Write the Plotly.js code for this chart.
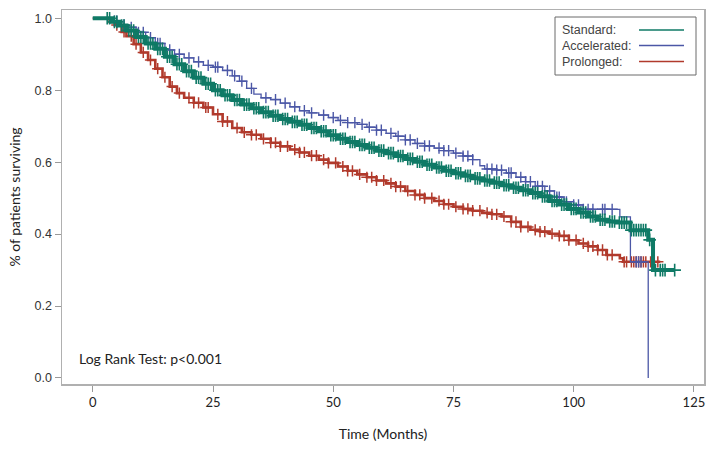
<!DOCTYPE html>
<html>
<head>
<meta charset="utf-8">
<script src="https://cdn.plot.ly/plotly-3.0.1.min.js"></script>
<style>html,body{margin:0;padding:0;background:#fff;}#chart{width:714px;height:452px;}</style>
</head>
<body>
<div id="chart"></div>
<script>
// ---- Data ----
const seriesNames = ["Standard:", "Accelerated:", "Prolonged:"];

const stdTime = [0,2.5,4,5.5,7,9,11,13,15,17,19,21,23,25,27,29,31,33,35,37,39,41,43,45,47,49,51,53,55,57,59,61,63,65,67,69,71,73,75,77,79,81,83,85,87,89,91,93,95,97,99,101,103,105,107,109,111.8,115.5,116.5,121];
const stdSurv = [1.0,1.0,0.99,0.98,0.966,0.948,0.93,0.915,0.893,0.872,0.853,0.835,0.818,0.80,0.786,0.773,0.76,0.75,0.739,0.729,0.72,0.712,0.704,0.695,0.686,0.675,0.665,0.656,0.648,0.64,0.632,0.625,0.617,0.609,0.601,0.593,0.585,0.576,0.569,0.562,0.555,0.549,0.543,0.536,0.529,0.522,0.514,0.505,0.492,0.482,0.470,0.46,0.449,0.44,0.435,0.432,0.411,0.384,0.30,0.30];

const accTime = [0,2.5,4,5.5,7,9,11,13,15,17,19,21,23,25,27,29,30.5,32,33.5,35,37,39,41,43,45,47,49,51,53,55,57,59,61,63,65,67,69,71,73,75,77,79,80.5,81.5,84,86,88,90,92,94,96,98,100,102,109.6,111.8,115.5];
const accSurv = [1.0,1.0,0.992,0.982,0.975,0.961,0.946,0.93,0.912,0.9,0.89,0.879,0.869,0.864,0.855,0.84,0.825,0.805,0.789,0.779,0.774,0.764,0.754,0.743,0.737,0.731,0.724,0.716,0.71,0.705,0.697,0.689,0.68,0.672,0.662,0.652,0.645,0.639,0.632,0.625,0.617,0.607,0.59,0.581,0.578,0.57,0.558,0.546,0.533,0.52,0.503,0.49,0.481,0.469,0.448,0.323,0.0];

const proTime = [0,2.5,3.5,4.6,6,7,8.5,10,11.5,13,14.5,16,17.5,19,21,23,25,27,29,31,33,35,37,39,41,43,45,47,49,51,53,55,57,59,61,63,65,67,69,71,73,75,77,79,81,83,85,87,89,91,93,95,97,99,101,103,105,106.8,109.6,110.3,118];
const proSurv = [1.0,1.0,0.99,0.981,0.962,0.95,0.928,0.905,0.884,0.86,0.836,0.81,0.792,0.779,0.765,0.752,0.733,0.713,0.695,0.683,0.676,0.665,0.654,0.644,0.635,0.627,0.618,0.607,0.598,0.588,0.576,0.566,0.558,0.549,0.541,0.532,0.52,0.509,0.5,0.492,0.483,0.476,0.47,0.465,0.459,0.455,0.449,0.434,0.42,0.412,0.407,0.401,0.395,0.383,0.374,0.366,0.356,0.342,0.333,0.323,0.323];

// censoring times (+ marks)
const stdCens = [3,3.5,4.5,5,6,6.5,7.5,8,8.5,9.5,10,10.5,11.5,12,12.5,13.5,14,14.5,15.5,16,16.5,17.5,18,18.5,19.5,20,20.5,21.5,22,22.5,23.5,24,24.5,25.5,26,26.5,27.5,28,28.5,29.5,30,30.5,31.5,32,32.5,33.5,34,34.5,35.5,36,36.5,37.5,38,38.5,39.5,40,40.5,41.5,42,42.5,43.5,44,44.5,45.5,46,46.5,47.5,48,48.5,49.5,50,50.5,51.5,52,52.5,53.5,54,54.5,55.5,56,56.5,57.5,58,58.5,59.5,60,60.5,61.5,62,62.5,63.5,64,64.5,65.5,66,66.5,67.5,68,68.5,69.5,70,70.5,71.5,72,72.5,73.5,74,74.5,75.5,76,76.5,77.5,78,78.5,79.5,80,80.5,81.5,82,82.5,83.5,84,84.5,85.5,86,86.5,87.5,88,88.5,89.5,90,90.5,91.5,92,92.5,93.5,94,94.5,95.5,96,96.5,97.5,98,98.5,99.5,100,100.5,101.5,102,102.5,103.5,104,104.5,105.5,106,106.5,107.5,108,108.5,109.5,110,110.5,111,112,112.5,113,113.5,114,114.5,115,115.8,117,118,118.5,119,121];
const accCens = [4.5,5,6.5,8,9.5,10.5,12,13.5,14,16,18,20,22,24,25.5,26,28,29.5,31,33,36,38,40,42,44,45.5,48,50,51.5,53,54.5,56,57.5,59,60,62,63.5,65,66,67.5,69,70,72,73,74,75.5,77,78,79,82,83,84,85,86.5,87,89,90,91,92.5,93.5,95,96.5,97,98.5,100,101,102,103,104,106,106.5,108,113,113.5,114];
const proCens = [5,6.5,8,9,10.5,12,13.5,15,16.5,18,20,21,22,23.5,24,26,27,28,30,31.5,33,34,35.5,37,38,39,40.5,42,43,44,45.5,46.5,48,49,50.5,52,53,54,55.5,57,58,59,60.5,62,63,64,65.5,67,68,69,70.5,72,73,74,75.5,77,78,79,80.5,82,83,84,85.5,87,88,89,90.5,92,93,94,95.5,97,98,99,100.5,102,103,104,105,106,107,108,110.5,111,112,112.5,113,113.5,114,114.5,115,116,117.5];

const colors = ["#0f7a66", "#4b57a6", "#b13a2c"];

function stepY(t, T, S) {
  let y = S[0];
  for (let i = 0; i < T.length; i++) { if (T[i] <= t) y = S[i]; else break; }
  return y;
}

const groups = [
  {t: stdTime, s: stdSurv, c: stdCens, w: 4, ms: 9, mw: 1.6},
  {t: accTime, s: accSurv, c: accCens, w: 1.3, ms: 8, mw: 1.4},
  {t: proTime, s: proSurv, c: proCens, w: 2.6, ms: 8, mw: 1.5}
];

const traces = [];
[2, 1, 0].forEach(i => {
  const g = groups[i];
  traces.push({
    x: g.t, y: g.s, type: "scatter", mode: "lines",
    line: {shape: "hv", color: colors[i], width: g.w},
    name: seriesNames[i], showlegend: false, hoverinfo: "skip"
  });
  traces.push({
    x: g.c, y: g.c.map(t => stepY(t, g.t, g.s)), type: "scatter", mode: "markers",
    marker: {symbol: "cross-thin-open", size: g.ms, color: colors[i], line: {color: colors[i], width: g.mw}},
    showlegend: false, hoverinfo: "skip"
  });
});

const L = 62, R = 704, T = 10, B = 384;
const px = v => (v - L) / (R - L);
const py = v => (B - v) / (B - T);

const shapes = [
  {type: "rect", xref: "paper", yref: "paper", x0: px(555), x1: px(696), y0: py(75), y1: py(17),
   line: {color: "#6b6b6b", width: 1}, fillcolor: "rgba(255,255,255,0)"}
];
const annotations = [
  {xref: "paper", yref: "paper", x: px(77), y: py(358), xanchor: "left", yanchor: "middle",
   text: "Log Rank Test: p<0.001", showarrow: false, font: {family: "Lato, 'Open Sans', sans-serif", size: 14, color: "#222"}}
];
const legendY = [30, 45.5, 61.5];
seriesNames.forEach((n, i) => {
  annotations.push({xref: "paper", yref: "paper", x: px(560), y: py(legendY[i]), xanchor: "left", yanchor: "middle",
    text: n, showarrow: false, font: {family: "'Liberation Sans', Arial, sans-serif", size: 12.5, color: "#444"}});
  shapes.push({type: "line", xref: "paper", yref: "paper", x0: px(639), x1: px(684), y0: py(legendY[i]), y1: py(legendY[i]),
    line: {color: colors[i], width: 1.3}});
});

const layout = {
  width: 714, height: 452,
  margin: {l: L, r: 714 - R, t: T, b: 452 - B},
  paper_bgcolor: "#fff", plot_bgcolor: "#fff",
  showlegend: false,
  xaxis: {
    range: [-6.4, 127.1], tickvals: [0, 25, 50, 75, 100, 125], ticktext: ["0","25","50","75","100","125"],
    ticks: "outside", ticklen: 6, tickcolor: "#999", tickwidth: 1,
    showline: true, mirror: true, linecolor: "#b0b0b0", linewidth: 1.5,
    showgrid: false, zeroline: false,
    tickfont: {family: "Lato, 'Open Sans', sans-serif", size: 13, color: "#222"},
    title: {text: "Time (Months)", font: {family: "Lato, 'Open Sans', sans-serif", size: 14, color: "#222"}, standoff: 20}
  },
  yaxis: {
    range: [-0.0167, 1.023], tickvals: [0, 0.2, 0.4, 0.6, 0.8, 1.0], ticktext: ["0.0","0.2","0.4","0.6","0.8","1.0"],
    ticks: "outside", ticklen: 6, tickcolor: "#999", tickwidth: 1,
    showline: true, mirror: true, linecolor: "#b0b0b0", linewidth: 1.5,
    showgrid: false, zeroline: false,
    tickfont: {family: "'Liberation Sans', Arial, sans-serif", size: 12.5, color: "#333"},
    title: {text: "% of patients surviving", font: {family: "Lato, 'Open Sans', sans-serif", size: 14, color: "#222"}, standoff: 10}
  },
  shapes: shapes,
  annotations: annotations
};

Plotly.newPlot("chart", traces, layout, {staticPlot: true, displayModeBar: false});
</script>
</body>
</html>
